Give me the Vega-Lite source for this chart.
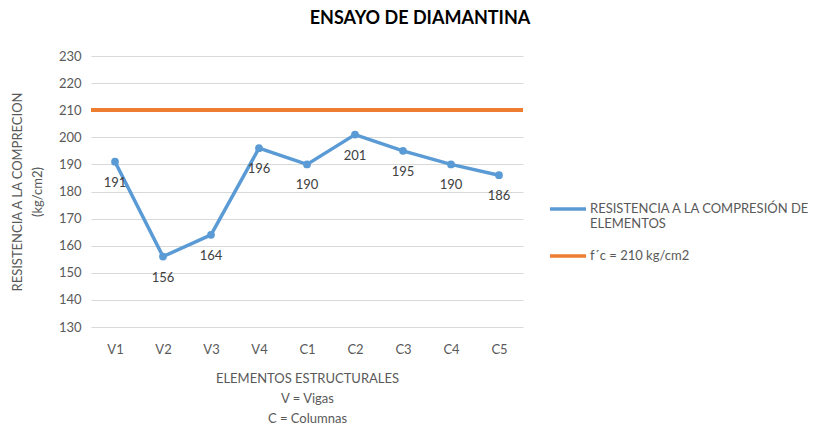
{
  "$schema": "https://vega.github.io/schema/vega-lite/v6.json",
  "width": 432,
  "height": 271,
  "autosize": {"type": "none"},
  "padding": {"left": 91, "top": 56, "right": 291, "bottom": 100},
  "background": "white",
  "config": {
    "font": "Lato",
    "view": {"stroke": null},
    "axis": {"labelFont": "Lato", "titleFont": "Lato", "labelColor": "#595959", "titleColor": "#595959", "labelFontSize": 13, "titleFontSize": 13, "titleFontWeight": "normal"}
  },
  "title": {"text": "ENSAYO DE DIAMANTINA", "font": "Lato", "fontSize": 18, "fontWeight": "bold", "color": "#000000", "anchor": "middle", "dx": 113, "offset": 22},
  "data": {
    "values": [
      {"elemento": "V1", "resistencia": 191, "serie": "RESISTENCIA A LA COMPRESIÓN DE ELEMENTOS"},
      {"elemento": "V2", "resistencia": 156, "serie": "RESISTENCIA A LA COMPRESIÓN DE ELEMENTOS"},
      {"elemento": "V3", "resistencia": 164, "serie": "RESISTENCIA A LA COMPRESIÓN DE ELEMENTOS"},
      {"elemento": "V4", "resistencia": 196, "serie": "RESISTENCIA A LA COMPRESIÓN DE ELEMENTOS"},
      {"elemento": "C1", "resistencia": 190, "serie": "RESISTENCIA A LA COMPRESIÓN DE ELEMENTOS"},
      {"elemento": "C2", "resistencia": 201, "serie": "RESISTENCIA A LA COMPRESIÓN DE ELEMENTOS"},
      {"elemento": "C3", "resistencia": 195, "serie": "RESISTENCIA A LA COMPRESIÓN DE ELEMENTOS"},
      {"elemento": "C4", "resistencia": 190, "serie": "RESISTENCIA A LA COMPRESIÓN DE ELEMENTOS"},
      {"elemento": "C5", "resistencia": 186, "serie": "RESISTENCIA A LA COMPRESIÓN DE ELEMENTOS"}
    ]
  },
  "encoding": {
    "x": {
      "field": "elemento", "type": "ordinal", "sort": null,
      "scale": {"type": "point", "padding": 0.5},
      "axis": {"labelAngle": 0, "domain": false, "ticks": false, "labelPadding": 16, "grid": false,
        "title": ["ELEMENTOS ESTRUCTURALES", "V = Vigas", "C = Columnas"], "titlePadding": 16, "titleLineHeight": 20}
    },
    "y": {
      "field": "resistencia", "type": "quantitative",
      "scale": {"domain": [130, 230], "nice": false, "zero": false},
      "axis": {"values": [130,140,150,160,170,180,190,200,210,220,230], "labelOverlap": false, "domain": false, "ticks": false, "labelPadding": 10,
        "gridColor": "#D9D9D9", "gridWidth": 1,
        "title": ["RESISTENCIA A LA COMPRECION", "(kg/cm2)"], "titlePadding": 14, "titleLineHeight": 20}
    }
  },
  "layer": [
    {
      "mark": {"type": "line", "strokeWidth": 3.5, "point": {"size": 60, "filled": true, "opacity": 1}},
      "encoding": {
        "color": {
          "field": "serie", "type": "nominal",
          "scale": {"domain": ["RESISTENCIA A LA COMPRESIÓN DE ELEMENTOS", "f´c = 210 kg/cm2"], "range": ["#5B9BD5", "#ED7D31"]},
          "legend": {
            "title": null, "orient": "none", "legendX": 457, "legendY": 133,
            "symbolType": "stroke", "symbolStrokeWidth": 3.5, "symbolSize": 1300,
            "labelFont": "Lato", "labelFontSize": 13, "labelColor": "#595959", "labelLimit": 300, "labelOffset": 2,
            "labelExpr": "datum.label == 'RESISTENCIA A LA COMPRESIÓN DE ELEMENTOS' ? ['RESISTENCIA A LA COMPRESIÓN DE', 'ELEMENTOS'] : datum.label",
            "rowPadding": 5
          }
        }
      }
    },
    {
      "mark": {"type": "text", "dy": 21, "fontSize": 13, "color": "#404040", "font": "Lato"},
      "encoding": {
        "text": {"field": "resistencia", "type": "quantitative"}
      }
    },
    {
      "mark": {"type": "rule", "strokeWidth": 3.5},
      "encoding": {
        "x": null,
        "y": {"datum": 210, "type": "quantitative"},
        "color": {"datum": "f´c = 210 kg/cm2"}
      }
    }
  ]
}
